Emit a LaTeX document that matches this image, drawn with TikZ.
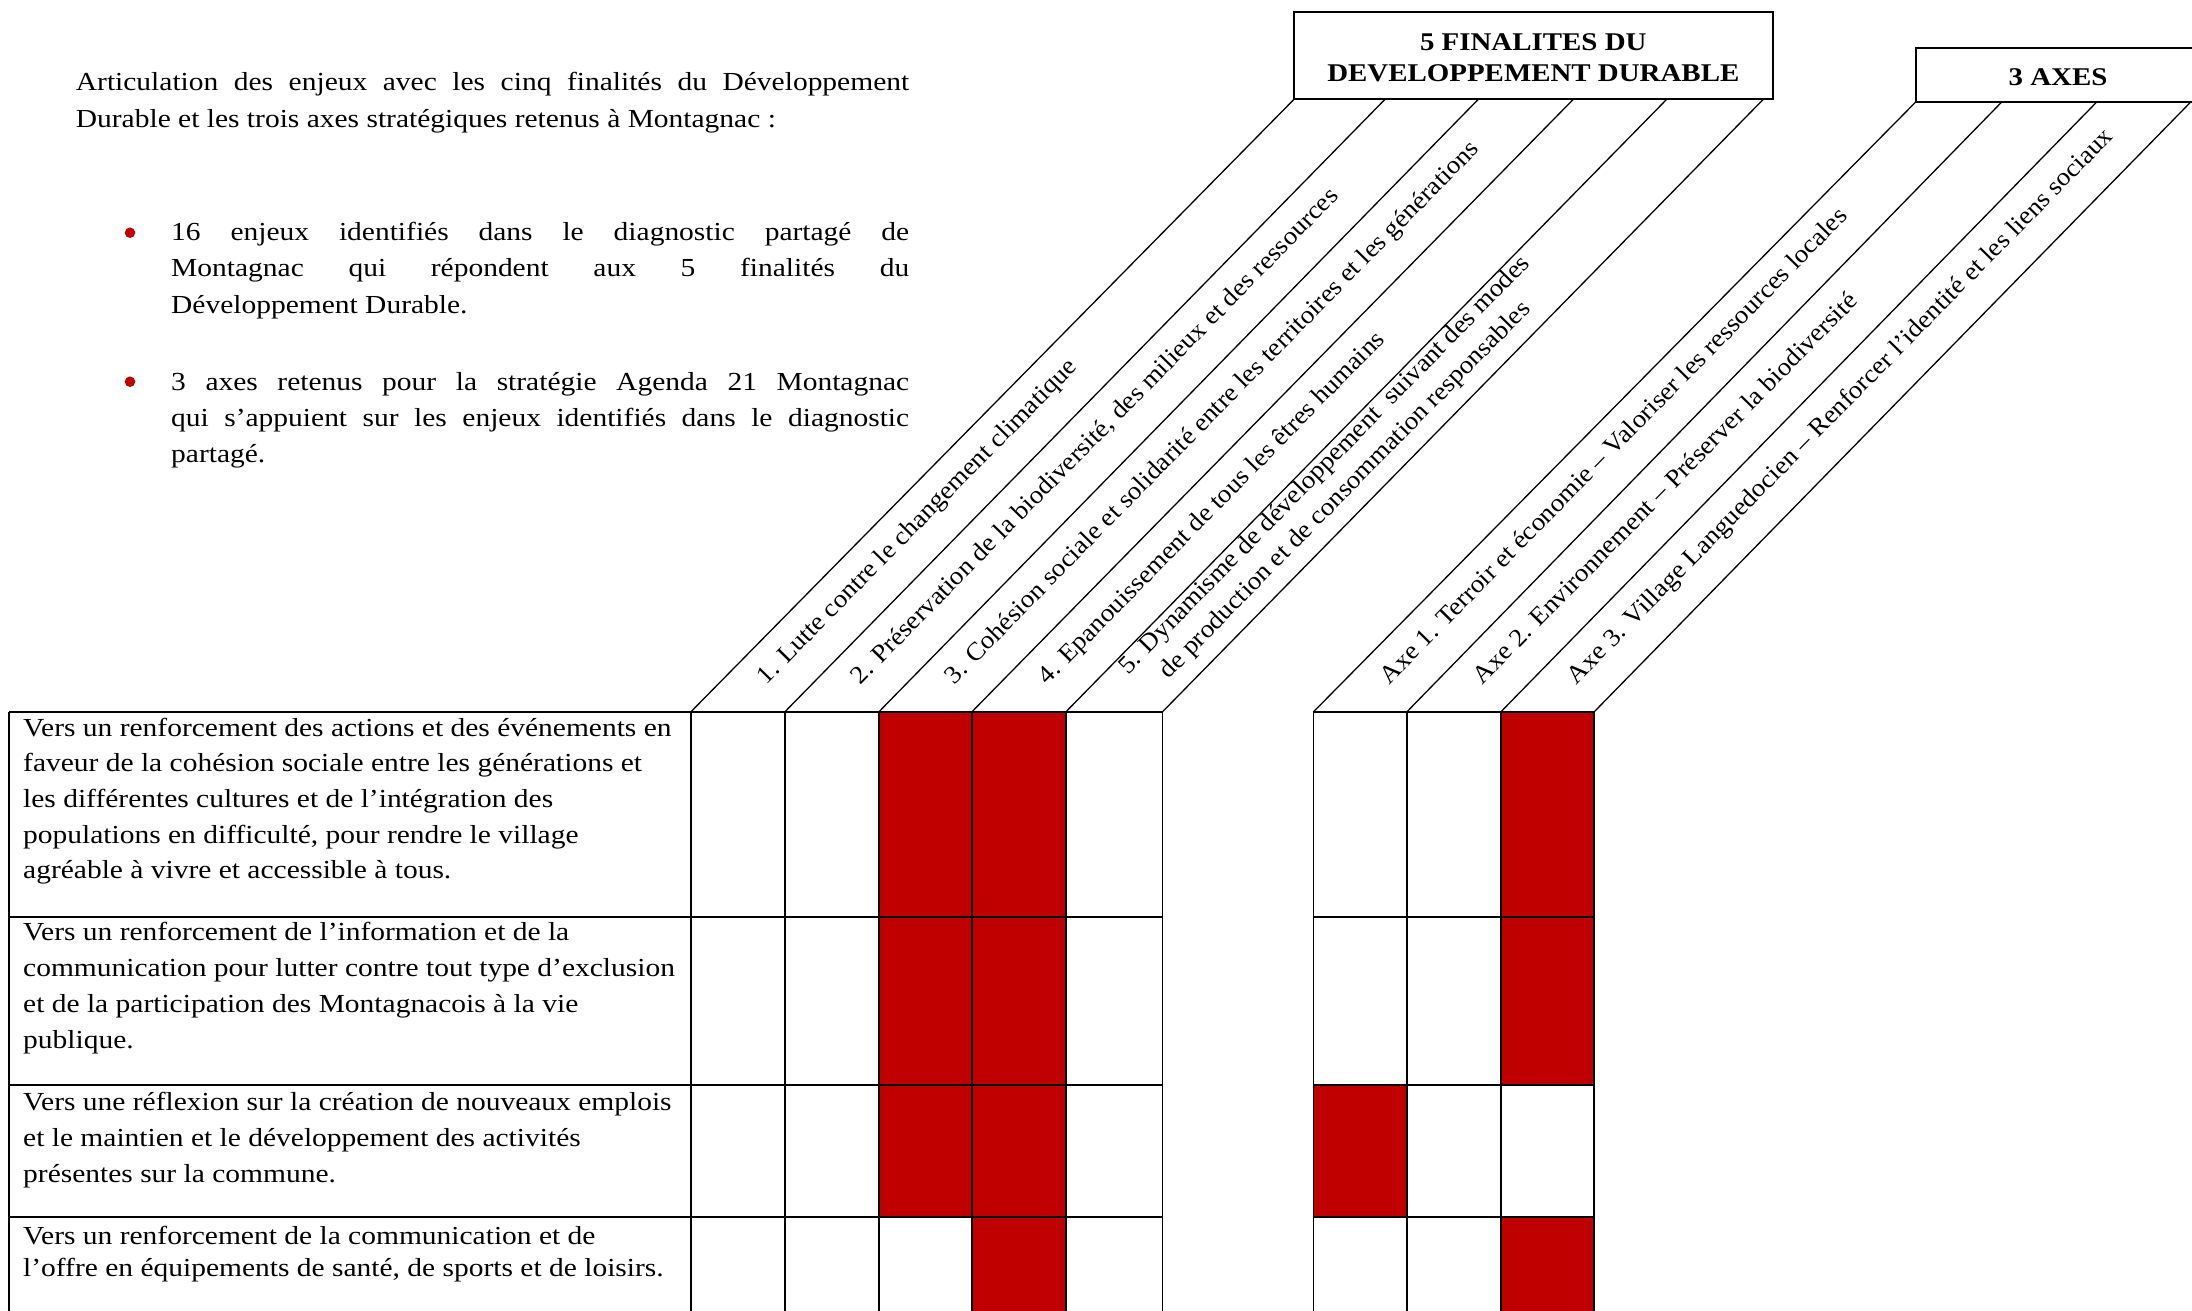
\documentclass[tikz,border=0pt]{standalone}
\usepackage{fontspec}
\setmainfont{Liberation Serif}[FakeStretch=1.134]
\newfontfamily\rotfont{Liberation Serif}[FakeStretch=1.067]
\definecolor{cellred}{HTML}{C00000}
\begin{document}
\begin{tikzpicture}[x=1pt,y=-1pt,
  gridline/.style={line width=1.6pt},
  diagline/.style={line width=1.3pt},
  boxline/.style={line width=1.8pt},
  tl/.style={anchor=base west, inner sep=0pt, font=\fontsize{26}{30}\selectfont},
  lab/.style={anchor=base west, inner sep=0pt, rotate=45.55, font=\rotfont\fontsize{25.3}{30}\selectfont},
  hdr/.style={anchor=base, inner sep=0pt, font=\bfseries\fontsize{25.5}{30}\selectfont},
  bul/.style={circle, fill=cellred, minimum size=10.5pt, inner sep=0pt},
  redcell/.style={fill=cellred}]
\fill[white] (0,0) rectangle (2192,1310);
\useasboundingbox (0,0) rectangle (2192,1310);

% ---- intro text ----
\node[tl] (intro1) at (75.7,90) {\makebox[833.3pt][s]{Articulation des enjeux avec les cinq finalités du Développement}};
\node[tl] (intro2) at (75.7,127.3) {Durable et les trois axes stratégiques retenus à Montagnac :};
\node[bul] (bu1) at (130,232.7) {};
\node[tl] (b1l1) at (171,240) {\makebox[738pt][s]{16 enjeux identifiés dans le diagnostic partagé de}};
\node[tl] (b1l2) at (171,276.7) {\makebox[738pt][s]{Montagnac qui répondent aux 5 finalités du}};
\node[tl] (b1l3) at (171,313.3) {Développement Durable.};
\node[bul] (bu2) at (130,381.7) {};
\node[tl] (b2l1) at (171,390) {\makebox[738pt][s]{3 axes retenus pour la stratégie Agenda 21 Montagnac}};
\node[tl] (b2l2) at (171,426.7) {\makebox[738pt][s]{qui s’appuient sur les enjeux identifiés dans le diagnostic}};
\node[tl] (b2l3) at (171,462.7) {partagé.};

% ---- column coordinates ----
\coordinate (a0) at (690.7,712);
\coordinate (a1) at (784.7,712);
\coordinate (a2) at (878.7,712);
\coordinate (a3) at (971.7,712);
\coordinate (a4) at (1065.7,712);
\coordinate (a5) at (1162.3,712);
\coordinate (b0) at (1313.3,712);
\coordinate (b1) at (1406.7,712);
\coordinate (b2) at (1500.7,712);
\coordinate (b3) at (1594,712);
\coordinate (t0) at (1294,99.3);
\coordinate (t1) at (1385,99.3);
\coordinate (t2) at (1478.3,99.3);
\coordinate (t3) at (1573.3,99.3);
\coordinate (t4) at (1666.7,99.3);
\coordinate (t5) at (1763.3,99.3);
\coordinate (u0) at (1916,101.7);
\coordinate (u1) at (2002,101.7);
\coordinate (u2) at (2097,101.7);
\coordinate (u3) at (2191,101.7);

% ---- red cells ----
\fill[redcell] (878.7,712) rectangle (1065.7,1216.7);
\fill[redcell] (971.7,1216.7) rectangle (1065.7,1320);
\fill[redcell] (1500.7,712) rectangle (1594,1085);
\fill[redcell] (1313.3,1085) rectangle (1406.7,1216.7);
\fill[redcell] (1500.7,1216.7) rectangle (1594,1320);

% ---- table lines ----
\foreach \y in {712,917,1085,1216.7} {
  \draw[gridline] (9,\y) -- (1162.3,\y);
  \draw[gridline] (1313.3,\y) -- (1594,\y);
}
\foreach \x in {9,690.7,784.7,878.7,971.7,1065.7,1162.3,1313.3,1406.7,1500.7,1594}
  \draw[gridline] (\x,712) -- (\x,1320);

% ---- diagonals ----
\foreach \i in {0,...,5} \draw[diagline] (a\i) -- (t\i);
\foreach \i in {0,...,3} \draw[diagline] (b\i) -- (u\i);

% ---- header boxes ----
\draw[boxline] (1294,11.7) rectangle (1772.7,99.3);
\node[hdr] (h1a) at (1533.3,50) {5 FINALITES DU};
\node[hdr] (h1b) at (1533.3,81.7) {DEVELOPPEMENT DURABLE};
\draw[boxline] (2210,47.7) -- (1916,47.7) -- (1916,101.7) -- (2210,101.7);
\node[hdr] (h2) at (2058,85) {3 AXES};

% ---- rotated labels ----
\node[lab] (f1) at ([shift={(76,-26.5)}]a0) {1. Lutte contre le changement climatique};
\node[lab] (f2) at ([shift={(76,-26.5)}]a1) {2. Préservation de la biodiversité, des milieux et des ressources};
\node[lab] (f3) at ([shift={(76,-26.5)}]a2) {3. Cohésion sociale et solidarité entre les territoires et les générations};
\node[lab] (f4) at ([shift={(76,-26.5)}]a3) {4. Epanouissement de tous les êtres humains};
\node[lab] (f5a) at ([shift={(62.6,-36.7)}]a4) {5. Dynamisme de développement \ suivant des modes};
\node[lab] (f5b) at ([shift={(102.9,-32.1)}]a4) {de production et de consommation responsables};
\node[lab] (x1) at ([shift={(76,-26.5)}]b0) {Axe 1. Terroir et économie – Valoriser les ressources locales};
\node[lab] (x2) at ([shift={(76,-26.5)}]b1) {Axe 2. Environnement – Préserver la biodiversité};
\node[lab] (x3) at ([shift={(76,-26.5)}]b2) {Axe 3. Village Languedocien – Renforcer l’identité et les liens sociaux};

% ---- table text ----
\node[tl] (r1l1) at (23,736) {Vers un renforcement des actions et des événements en};
\node[tl] (r1l2) at (23,771.7) {faveur de la cohésion sociale entre les générations et};
\node[tl] (r1l3) at (23,807.4) {les différentes cultures et de l’intégration des};
\node[tl] (r1l4) at (23,843.1) {populations en difficulté, pour rendre le village};
\node[tl] (r1l5) at (23,878.8) {agréable à vivre et accessible à tous.};
\node[tl] (r2l1) at (23,940) {Vers un renforcement de l’information et de la};
\node[tl] (r2l2) at (23,976) {communication pour lutter contre tout type d’exclusion};
\node[tl] (r2l3) at (23,1012) {et de la participation des Montagnacois à la vie};
\node[tl] (r2l4) at (23,1048) {publique.};
\node[tl] (r3l1) at (23,1110) {Vers une réflexion sur la création de nouveaux emplois};
\node[tl] (r3l2) at (23,1146) {et le maintien et le développement des activités};
\node[tl] (r3l3) at (23,1182) {présentes sur la commune.};
\node[tl] (r4l1) at (23,1244.3) {Vers un renforcement de la communication et de};
\node[tl] (r4l2) at (23,1276.7) {l’offre en équipements de santé, de sports et de loisirs.};
\end{tikzpicture}
\end{document}
